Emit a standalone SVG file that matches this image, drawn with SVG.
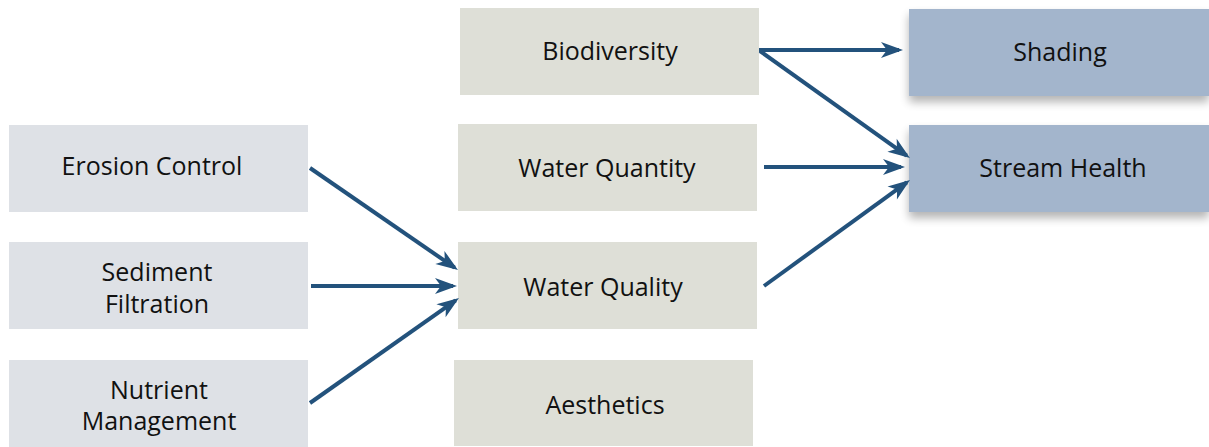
<svg xmlns="http://www.w3.org/2000/svg" width="1209" height="447" viewBox="0 0 1209 447">
<style>
.l{fill:#dee1e6}
.m{fill:#dedfd7}
.r{fill:#a3b5cc;filter:url(#sh)}
text{font-family:"Open Sans","Liberation Sans",sans-serif;font-size:25px;fill:#111;text-anchor:middle;dominant-baseline:central}
.c line{stroke:#23527c;stroke-width:4}
</style>
<defs>
<filter id="sh" x="-10%" y="-20%" width="120%" height="160%">
<feGaussianBlur in="SourceAlpha" stdDeviation="5"/>
<feOffset dy="6" result="b"/>
<feComponentTransfer><feFuncA type="linear" slope="0.3"/></feComponentTransfer>
<feMerge><feMergeNode/><feMergeNode in="SourceGraphic"/></feMerge>
</filter>
<marker id="a" markerWidth="24" markerHeight="18" viewBox="-23 -9 24 18" refX="-4" refY="0" orient="auto" markerUnits="userSpaceOnUse">
<path d="M-22,-8 L0,0 L-22,8 L-16,0 Z" fill="#23527c"/>
</marker>
</defs>
<g id="erosion"><rect class="l" x="9" y="125" width="299" height="87"/><text x="152" y="165">Erosion Control</text></g>
<g id="sediment"><rect class="l" x="9" y="242" width="299" height="87"/><text x="157" y="271">Sediment</text><text x="157" y="303">Filtration</text></g>
<g id="nutrient"><rect class="l" x="9" y="360" width="299" height="87"/><text x="159" y="389">Nutrient</text><text x="159" y="420">Management</text></g>
<g id="biodiversity"><rect class="m" x="460" y="8" width="299" height="87"/><text x="610" y="50">Biodiversity</text></g>
<g id="waterquantity"><rect class="m" x="458" y="124" width="299" height="87"/><text x="607" y="167">Water Quantity</text></g>
<g id="waterquality"><rect class="m" x="458" y="242" width="299" height="87"/><text x="603" y="286">Water Quality</text></g>
<g id="aesthetics"><rect class="m" x="454" y="360" width="299" height="86"/><text x="605" y="404">Aesthetics</text></g>
<g id="shading"><rect class="r" x="909" y="9" width="300" height="87"/><text x="1060" y="51">Shading</text></g>
<g id="streamhealth"><rect class="r" x="909" y="125" width="300" height="87"/><text x="1063" y="167">Stream Health</text></g>
<g class="c">
<line x1="310" y1="168" x2="454.7" y2="267.7" marker-end="url(#a)"/>
<line x1="311" y1="286" x2="453" y2="286" marker-end="url(#a)"/>
<line x1="310" y1="403" x2="455.7" y2="300.3" marker-end="url(#a)"/>
<line x1="759" y1="50" x2="899" y2="50" marker-end="url(#a)"/>
<line x1="760" y1="51" x2="906.7" y2="155.7" marker-end="url(#a)"/>
<line x1="764" y1="167" x2="901" y2="167" marker-end="url(#a)"/>
<line x1="764" y1="286" x2="906.8" y2="182.4" marker-end="url(#a)"/>
</g>
</svg>
